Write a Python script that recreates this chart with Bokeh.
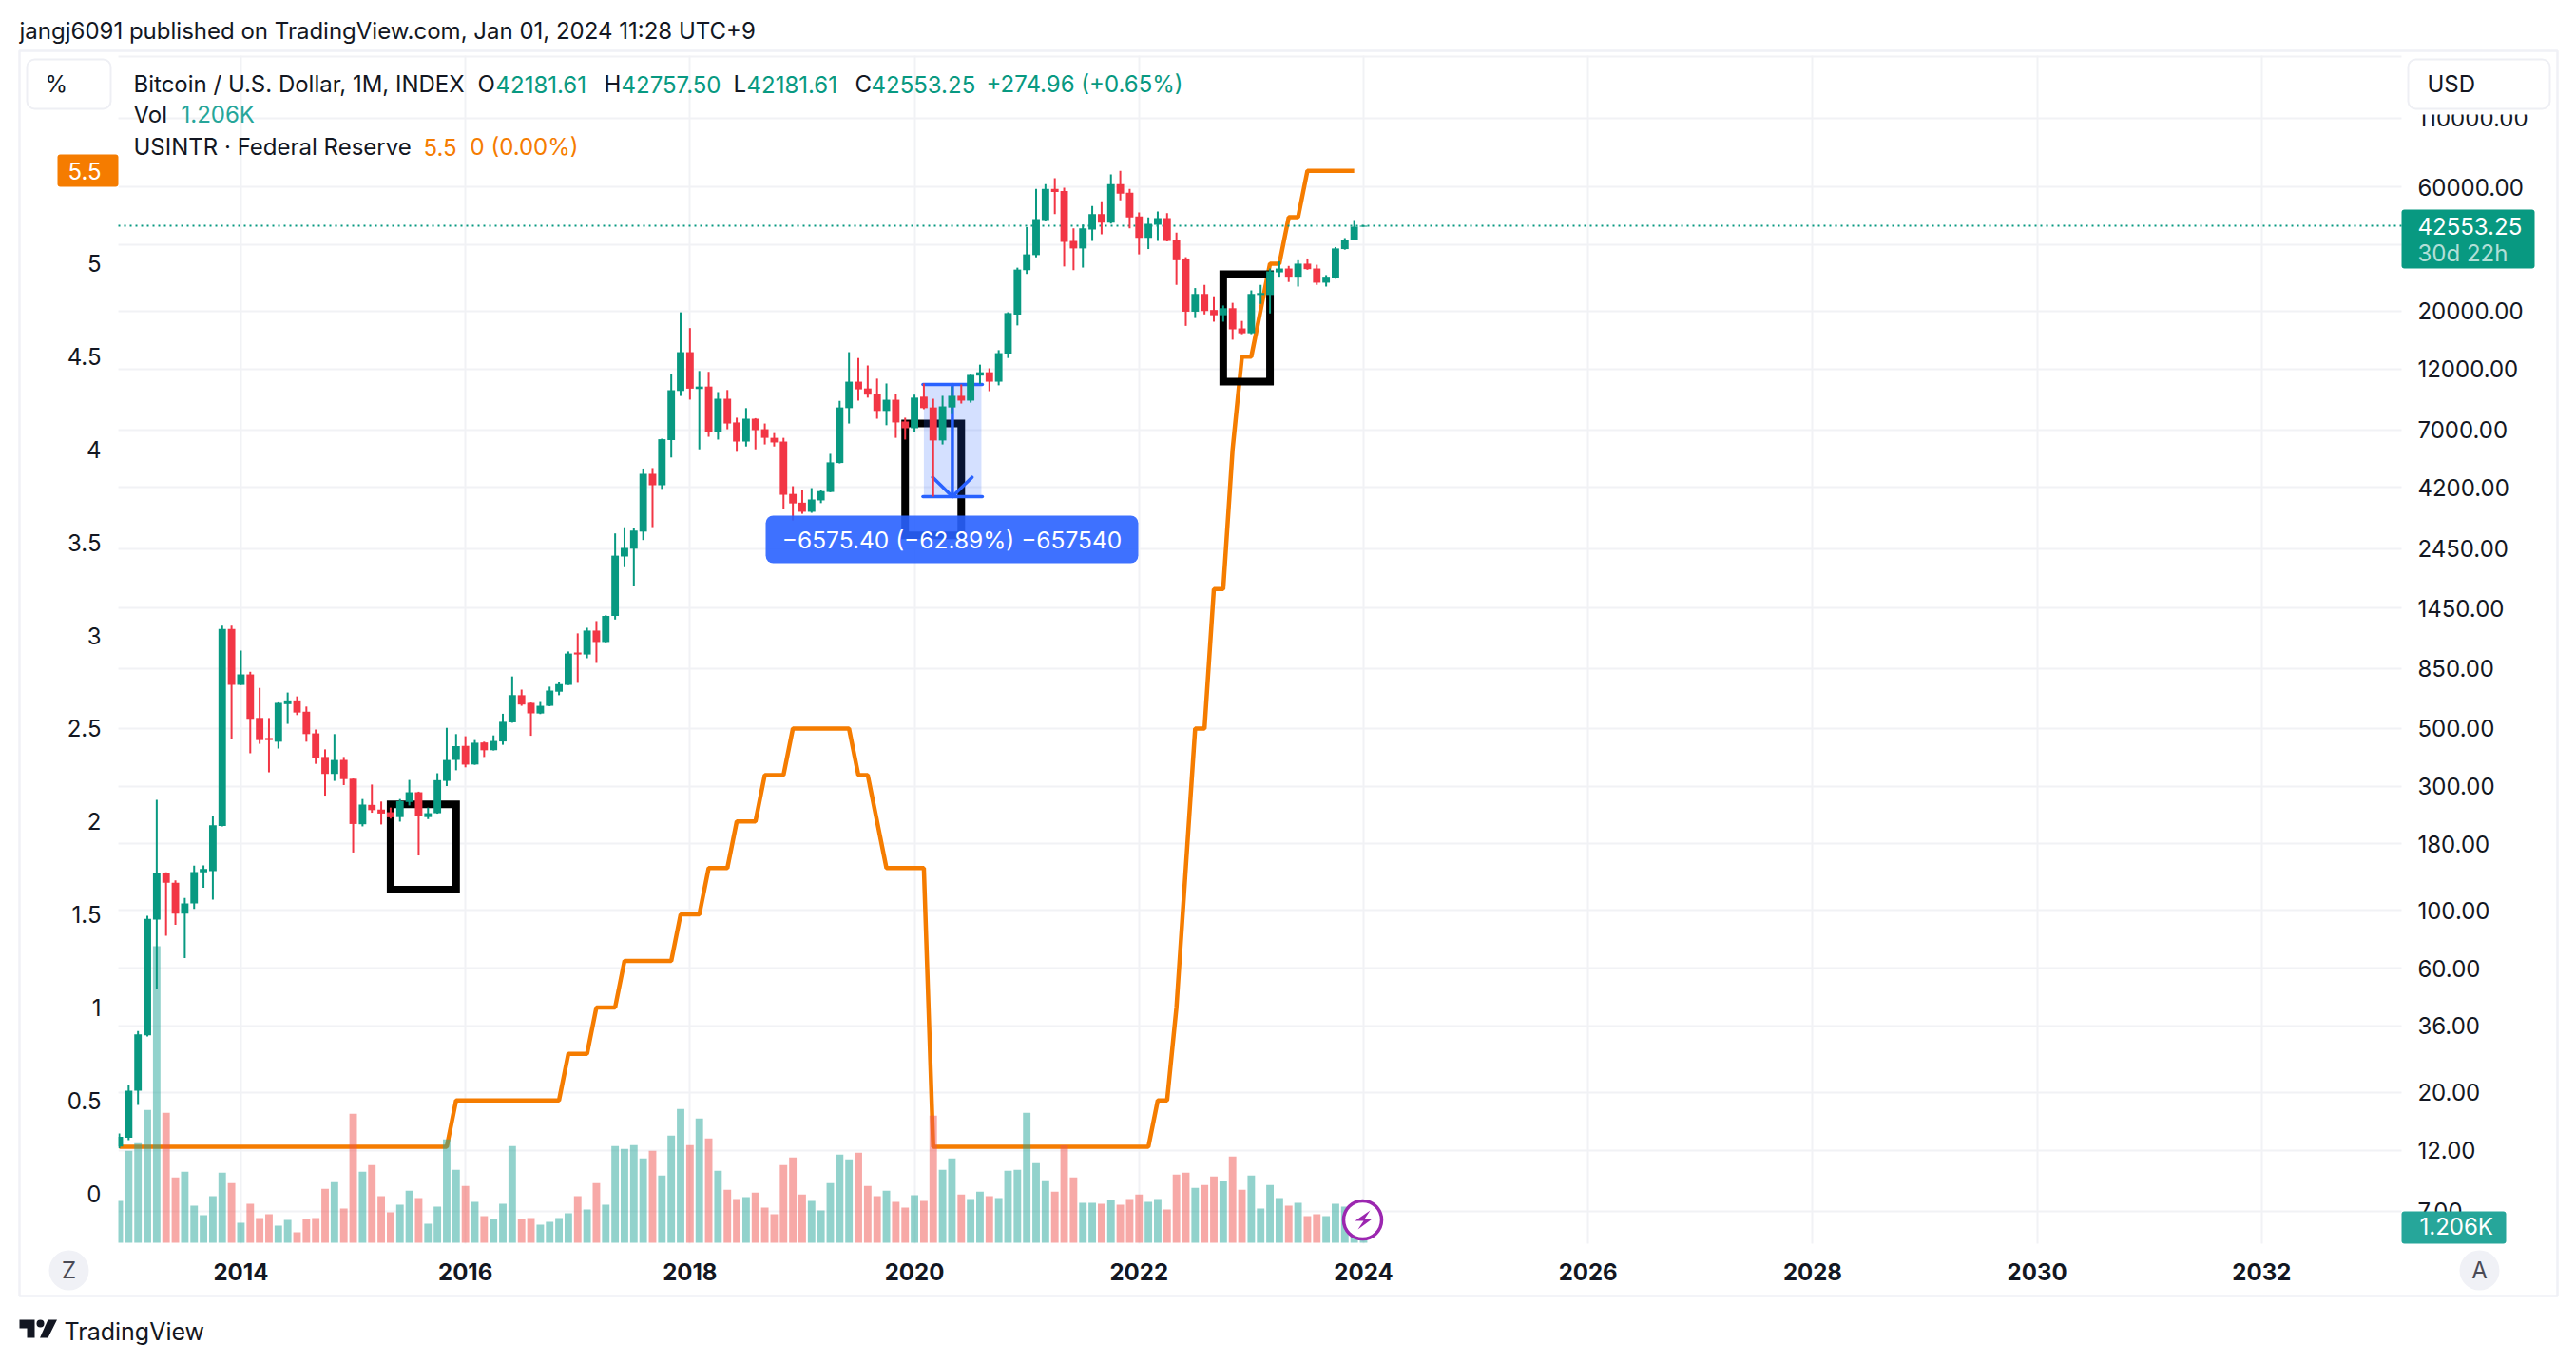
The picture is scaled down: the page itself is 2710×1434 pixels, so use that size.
from bokeh.embed import file_html
from bokeh.models import (BoxAnnotation, ColumnDataSource, FixedTicker, Label, LinearAxis,
                          LinearScale, NumeralTickFormatter, PolyAnnotation, Range1d)
from bokeh.plotting import figure
from bokeh.resources import INLINE

# monthly BTC candles, Dec 2012 .. Jan 2024
opens = [12.4, 13.4, 20.3, 33.1, 92.2, 139.2, 127.7, 97.1, 106.3, 139.8, 141.5, 211, 1204, 733.6, 805, 548, 458.9,
         444, 619, 640, 579, 478, 388, 334, 378, 320, 214, 254, 243.7, 238, 228, 260.6, 284, 228, 236, 314, 378, 428,
         363, 441, 412, 445, 527, 670, 626, 570, 610, 691, 734, 977, 960, 1186, 1072, 1350, 2283, 2446, 2845, 4743,
         4287, 6390, 9870, 13900, 10040, 10260, 6860, 9210, 7470, 6310, 7720, 7035, 6520, 6310, 3970, 3675, 3390,
         3750, 4040, 5220, 8480, 10710, 10090, 9640, 8270, 9130, 7530, 7100, 9380, 8530, 6370, 8530, 9450, 9060,
         11300, 11640, 10710, 13730, 19380, 28700, 32800, 44720, 58850, 57800, 37130, 34780, 41100, 47090, 43700,
         61460, 56980, 46150, 38200, 42900, 45470, 37500, 31830, 19880, 23260, 20180, 19270, 20500, 17150, 16430,
         23050, 23050, 28150, 29120, 27080, 30390, 29120, 25690, 26850, 34590, 37500, 42181.61]
highs = [13.9, 21.3, 34.4, 95.3, 265.4, 140, 130.2, 111.6, 148.4, 148.8, 231, 1238, 1238, 993.6, 823.9, 714.6, 547.5,
         629, 686, 663, 606, 494.6, 415, 475, 388, 320.5, 267.5, 304, 261.6, 248, 267.5, 316.6, 285.5, 248, 336, 502,
         475, 466, 450.5, 444, 469.6, 568.6, 790.8, 704, 628, 631, 722.6, 753, 986, 1157, 1216, 1290, 1358, 2800,
         2957, 2935, 4970, 4990, 6470, 11460, 19770, 17200, 11770, 11680, 9770, 9950, 7790, 8480, 7760, 7400, 6800,
         6520, 4250, 4120, 4180, 4120, 5660, 9040, 13900, 13200, 12360, 11000, 10540, 9640, 7790, 9550, 10540, 9210,
         9450, 10260, 10450, 11400, 12450, 12050, 14150, 19790, 29340, 42000, 58870, 61460, 64780, 59560, 41520,
         42930, 50650, 52800, 66930, 69000, 58850, 47870, 45770, 48210, 47530, 40030, 32200, 24500, 25200, 22790,
         21000, 21500, 18320, 24000, 25200, 29120, 31080, 29800, 31330, 31830, 30100, 27480, 35200, 38090, 44700,
         42757.5]
lows = [12.2, 13.1, 17.9, 32.8, 50, 79.8, 87.9, 65.5, 101.2, 122, 110, 210, 455.8, 732, 401, 435.8, 338.8, 418, 520,
        562, 444, 365, 275.7, 314, 302.6, 166.7, 210, 237, 213.6, 225, 219, 252.7, 162.4, 224, 235, 300, 345, 354,
        362, 388, 411, 432, 525, 610, 468, 567, 608, 670, 733, 747, 929, 891, 1060, 1308, 2077, 1758, 2640, 2960,
        4150, 5480, 9440, 9140, 5890, 6580, 6420, 7035, 5760, 6040, 5890, 6150, 6040, 3480, 3140, 3330, 3360, 3660,
        4030, 5200, 7400, 9060, 9300, 7720, 7290, 6520, 6420, 6860, 8400, 3880, 6150, 8040, 8830, 8900, 10500, 9850,
        10370, 13200, 17610, 27760, 32150, 44500, 47090, 29650, 28700, 29360, 37130, 39400, 43300, 53260, 41520,
        33010, 34590, 37130, 37000, 25200, 17540, 18800, 19410, 18200, 18200, 15520, 16290, 16300, 21290, 19580,
        27080, 25850, 24830, 28800, 25200, 24830, 26600, 34400, 37300, 42181.61]
closes = [13.5, 20.3, 33.4, 92.8, 139.2, 127.7, 97.1, 106.3, 140.3, 144, 212, 1204, 733.6, 805, 543.6, 450.5, 450.5,
          626, 640, 574.7, 475, 385, 334, 377.7, 319, 214.5, 254.7, 242.5, 235.3, 227.6, 262.4, 284, 229.3, 236, 316,
          377.7, 427, 362.6, 440, 411.7, 447, 529.5, 670.6, 617, 570.6, 610, 698, 739, 968, 960, 1186, 1072, 1350,
          2300, 2463, 2870, 4743, 4287, 6440, 9935, 13900, 10070, 10260, 6860, 9210, 7400, 6310, 7720, 6980, 6520,
          6260, 3940, 3650, 3390, 3780, 4070, 5250, 8530, 10710, 10010, 9550, 8270, 9130, 7470, 7100, 9300, 8480,
          6370, 8610, 9450, 9060, 11370, 11640, 10710, 13780, 19640, 28850, 33010, 45100, 58850, 57300, 36850, 34780,
          41520, 47090, 43700, 61460, 56500, 45770, 38200, 43260, 45470, 37130, 31330, 19880, 23260, 20000, 19270,
          20500, 17010, 16430, 23260, 23450, 28400, 29120, 27080, 30390, 28960, 25690, 27080, 34780, 37630, 42181.61,
          42553.25]
# volume in thousands
volumes = [17.6, 38.7, 41.9, 55.9, 124.8, 54.7, 27.5, 29.9, 15.6, 11.6, 19.6, 29.5, 25.1, 8.4, 16.4, 10.4, 12, 7.2,
           9.6, 4.4, 10, 10.4, 22.7, 25.5, 14.4, 54.3, 29.9, 32.7, 19.6, 12.8, 16, 21.9, 18.8, 8, 15.2, 43.5, 30.7,
           23.9, 17.2, 11.2, 10, 16.4, 40.7, 10, 10.4, 7.6, 8.8, 10.4, 12.4, 19.6, 14, 25.1, 16, 40.7, 39.5, 41.1,
           35.5, 38.7, 28.3, 45.1, 56.3, 41.1, 52.3, 43.9, 30.3, 22.3, 18.4, 19.2, 21.1, 14.8, 12, 32.7, 35.9, 20.3,
           17.6, 13.6, 25.1, 37.1, 35.1, 37.9, 23.9, 19.6, 21.9, 17.2, 14.8, 20, 17.6, 53.5, 30.7, 35.5, 20.3, 18.4,
           21.5, 19.6, 18.8, 30.3, 30.7, 54.7, 33.5, 26.3, 21.5, 41, 27.5, 16.8, 16.8, 16.4, 18, 16, 18.4, 20.3, 17.2,
           18.4, 14, 28.7, 29.5, 23.1, 24.3, 27.9, 25.9, 36.3, 22.3, 28.3, 14.4, 24.3, 18.8, 15.6, 16.8, 11.2, 12,
           11.2, 16.4, 15.2, 14, 1.206]
# USINTR, Dec 2012 .. Dec 2023
rates = [0.25, 0.25, 0.25, 0.25, 0.25, 0.25, 0.25, 0.25, 0.25, 0.25, 0.25, 0.25, 0.25, 0.25, 0.25, 0.25, 0.25, 0.25,
         0.25, 0.25, 0.25, 0.25, 0.25, 0.25, 0.25, 0.25, 0.25, 0.25, 0.25, 0.25, 0.25, 0.25, 0.25, 0.25, 0.25, 0.25,
         0.5, 0.5, 0.5, 0.5, 0.5, 0.5, 0.5, 0.5, 0.5, 0.5, 0.5, 0.5, 0.75, 0.75, 0.75, 1, 1, 1, 1.25, 1.25, 1.25,
         1.25, 1.25, 1.25, 1.5, 1.5, 1.5, 1.75, 1.75, 1.75, 2, 2, 2, 2.25, 2.25, 2.25, 2.5, 2.5, 2.5, 2.5, 2.5, 2.5,
         2.5, 2.25, 2.25, 2, 1.75, 1.75, 1.75, 1.75, 1.75, 0.25, 0.25, 0.25, 0.25, 0.25, 0.25, 0.25, 0.25, 0.25,
         0.25, 0.25, 0.25, 0.25, 0.25, 0.25, 0.25, 0.25, 0.25, 0.25, 0.25, 0.25, 0.25, 0.25, 0.25, 0.5, 0.5, 1, 1.75,
         2.5, 2.5, 3.25, 3.25, 4, 4.5, 4.5, 4.75, 5, 5, 5.25, 5.25, 5.5, 5.5, 5.5, 5.5, 5.5, 5.5]

price_ticks = [110000, 60000, 36000, 20000, 12000, 7000, 4200, 2450, 1450, 850, 500, 300, 180, 100, 60, 36, 20, 12, 7]
price_grid = [190000, 110000, 60000, 36000, 20000, 12000, 7000, 4200, 2450, 1450, 850, 500, 300, 180, 100, 60, 36,
              20, 12, 7]
pct_ticks = [0, 0.5, 1, 1.5, 2, 2.5, 3, 3.5, 4, 4.5, 5]
pct_labels = ["0", "0.5", "1", "1.5", "2", "2.5", "3", "3.5", "4", "4.5", "5"]
year_ticks = [13, 37, 61, 85, 109, 133, 157, 181, 205, 229]
year_labels = ["2014", "2016", "2018", "2020", "2022", "2024", "2026", "2028", "2030", "2032"]

# hand drawn black rectangles (month index / price)
rect_left = [29, 84, 118]
rect_right = [36, 90, 123]
rect_top = [255, 7400, 27700]
rect_bottom = [120, 2750, 10720]

# measure tool
measure_left = 86
measure_right = 92.15
measure_mid = 89.05
measure_high = 10455.4
measure_low = 3880
last_close = 42553.25

# pane edges in axis units, the frame fills the whole canvas so the page furniture is not clipped
pane_left = -0.1
pane_right = 243.95
pane_bottom = 5.24
pane_top = 191300

GREEN = "#089981"
RED = "#F23645"
VOL_GREEN = "#26A69A"
VOL_RED = "#EF5350"
ORANGE = "#F57C00"
BLUE = "#2962FF"
INK = "#131722"
PALE = "#F0F1F6"
GRID = "#F1F2F5"
FONT = "Inter"

p = figure(width=2710, height=1434, output_backend="svg", toolbar_location=None,
           x_range=Range1d(-12.70, 262.65), y_range=Range1d(1.82, 311500), y_axis_type="log",
           y_axis_location="right", min_border=0, outline_line_color=None,
           extra_y_ranges={"pct": Range1d(-0.915, 6.416), "vol": Range1d(-50.8, 522.8)},
           extra_y_scales={"pct": LinearScale(), "vol": LinearScale()})

# axes and grid
right_axis = p.right[0]
right_axis.ticker = FixedTicker(ticks=price_ticks)
right_axis.formatter = NumeralTickFormatter(format="0.00")
right_axis.major_label_standoff = 11
right_axis.fixed_location = pane_right
bottom_axis = p.below[0]
bottom_axis.ticker = FixedTicker(ticks=year_ticks)
bottom_axis.major_label_overrides = dict(zip(year_ticks, year_labels))
bottom_axis.major_label_text_font_style = "bold"
bottom_axis.major_label_standoff = 14
bottom_axis.fixed_location = pane_bottom
left_axis = LinearAxis(y_range_name="pct", ticker=FixedTicker(ticks=pct_ticks),
                       major_label_overrides=dict(zip(pct_ticks, pct_labels)), major_label_standoff=12,
                       fixed_location=pane_left)
p.add_layout(left_axis, "left")
for ax in [bottom_axis, right_axis, left_axis]:
    ax.axis_line_color = None
    ax.major_tick_line_color = None
    ax.minor_tick_line_color = None
    ax.major_label_text_font = FONT
    ax.major_label_text_font_size = "24px"
    ax.major_label_text_color = INK
p.xgrid.ticker = FixedTicker(ticks=year_ticks)
p.ygrid.ticker = FixedTicker(ticks=price_grid)
p.xgrid[0].cross_bounds = (pane_bottom, pane_top)
p.ygrid[0].cross_bounds = (pane_left, pane_right)
for g in [p.xgrid[0], p.ygrid[0]]:
    g.grid_line_color = GRID
    g.grid_line_width = 2

months = list(range(len(closes)))
ups = [c >= o for o, c in zip(opens, closes)]
candles = ColumnDataSource(data=dict(
    x=months,
    top=[max(o, c) for o, c in zip(opens, closes)],
    bottom=[min(o, c) for o, c in zip(opens, closes)],
    high=highs,
    low=lows,
    vol=volumes,
    color=[GREEN if u else RED for u in ups],
    volcolor=[VOL_GREEN if u else VOL_RED for u in ups]))

p.line(months[:len(rates)], rates, y_range_name="pct", line_color=ORANGE, line_width=4.5)
p.vbar(x="x", top="vol", bottom=0, width=0.8, y_range_name="vol", source=candles,
       fill_color="volcolor", line_color=None, fill_alpha=0.5)
p.quad(left=rect_left, right=rect_right, top=rect_top, bottom=rect_bottom, fill_alpha=0,
       line_color="black", line_width=8, line_join="miter")

# measure tool
p.quad(left=[measure_left], right=[measure_right], top=[measure_high], bottom=[measure_low],
       fill_color=BLUE, fill_alpha=0.2, line_color=None)
p.segment(x0=[measure_left - 0.1, measure_left - 0.1, measure_mid, measure_mid - 2.1, measure_mid + 2.1],
          x1=[measure_right + 0.1, measure_right + 0.1, measure_mid, measure_mid, measure_mid],
          y0=[measure_high, measure_low, measure_high, 4600, 4600],
          y1=[measure_high, measure_low, measure_low, measure_low, measure_low],
          line_color=BLUE, line_width=3.5, line_cap="round")

p.segment(x0=[pane_left], x1=[pane_right], y0=[last_close], y1=[last_close], line_color=GREEN, line_width=2,
          line_dash="dotted")

p.segment(x0="x", x1="x", y0="low", y1="high", source=candles, line_color="color", line_width=2)
p.vbar(x="x", top="top", bottom="bottom", width=0.8, source=candles, fill_color="color", line_color=None)


def box(left, top, right, bottom, fill=None, line=None, radius=0, alpha=1.0, lw=2):
    b = BoxAnnotation(left=left, right=right, top=top, bottom=bottom,
                      left_units="canvas", right_units="canvas", top_units="canvas", bottom_units="canvas",
                      fill_color=fill if fill else "white", fill_alpha=alpha if fill else 0,
                      line_color=line, line_alpha=1, line_width=lw, border_radius=radius)
    p.add_layout(b)


def text(x, y, s, color=INK, size=24, align="left", style="normal", alpha=1.0):
    p.add_layout(Label(x=x, y=y, x_units="canvas", y_units="canvas", text=s, text_color=color,
                       text_font=FONT, text_font_size=f"{size}px", text_baseline="middle", text_align=align,
                       text_font_style=style, text_alpha=alpha))


def poly(xs, ys, fill):
    p.add_layout(PolyAnnotation(xs=xs, ys=ys, xs_units="canvas", ys_units="canvas",
                                fill_color=fill, fill_alpha=1, line_color=None))


# the first bar is cut by the pane edge
box(116, 1150, 124, 1308, fill="white")

# outer frame
box(20, 53, 2690, 1363, line=PALE, lw=2.5)

# header
text(20, 32, "jangj6091 published on TradingView.com, Jan 01, 2024 11:28 UTC+9")
text(140, 88, "Bitcoin / U.S. Dollar, 1M, INDEX")
text(502, 88, "O")
text(521, 88, "42181.61", GREEN)
text(635, 88, "H")
text(653, 88, "42757.50", GREEN)
text(771, 88, "L")
text(785, 88, "42181.61", GREEN)
text(899, 88, "C")
text(916, 88, "42553.25", GREEN)
text(1037, 88, "+274.96 (+0.65%)", GREEN)
text(140, 120, "Vol")
text(190, 120, "1.206K", VOL_GREEN)
text(140, 154, "USINTR · Federal Reserve")
text(445, 154, "5.5", ORANGE)
text(494, 154, "0 (0.00%)", ORANGE)

# buttons, the right one also hides the top of the first price label
box(28, 62, 116, 114, fill="white", line="#EEEFF4", radius=8)
text(47, 88, "%")
box(2533, 112, 2682, 120, fill="white")
box(2533, 62, 2682, 114, fill="white", line="#EEEFF4", radius=8)
text(2553, 88, "USD")

# price badges
box(60, 162, 124, 196, fill=ORANGE, radius=3)
text(71, 179, "5.5", "white")
box(2526, 220, 2666, 282, fill=GREEN, radius=3)
text(2543, 237, "42553.25", "white")
text(2543, 266, "30d 22h", "white", alpha=0.7)
box(2526, 1274, 2636, 1308, fill=VOL_GREEN, radius=3)
text(2545, 1290, "1.206K", "white")

# measure label
box(805, 542, 1197, 592, fill=BLUE, radius=8, alpha=0.9)
text(1001, 567, "\u22126575.40 (\u221262.89%) \u2212657540", "white", size=24.5, align="center")

# round buttons
box(51, 1315, 93, 1357, fill=PALE, radius=21)
text(72, 1336, "Z", "#4A4A55", align="center")
box(2587, 1315, 2629, 1357, fill=PALE, radius=21)
text(2608, 1336, "A", "#4A4A55", align="center")

# lightning marker
box(1413, 1263, 1453, 1303, fill="white", line="#9C27B0", radius=20, lw=3.5)
poly([1441, 1425, 1434, 1428, 1443, 1435], [1273, 1284, 1284, 1293, 1282, 1282], "#9C27B0")

# logo
poly([20, 36, 36, 28, 28, 20], [1388, 1388, 1407, 1407, 1397, 1397], INK)
box(38, 1388, 46, 1396, fill=INK, radius=4)
poly([59.5, 50, 41.5, 50], [1388, 1407, 1407, 1388], INK)
text(67, 1400, "TradingView", size=25)

open("out.html", "w").write(file_html(p, INLINE))
